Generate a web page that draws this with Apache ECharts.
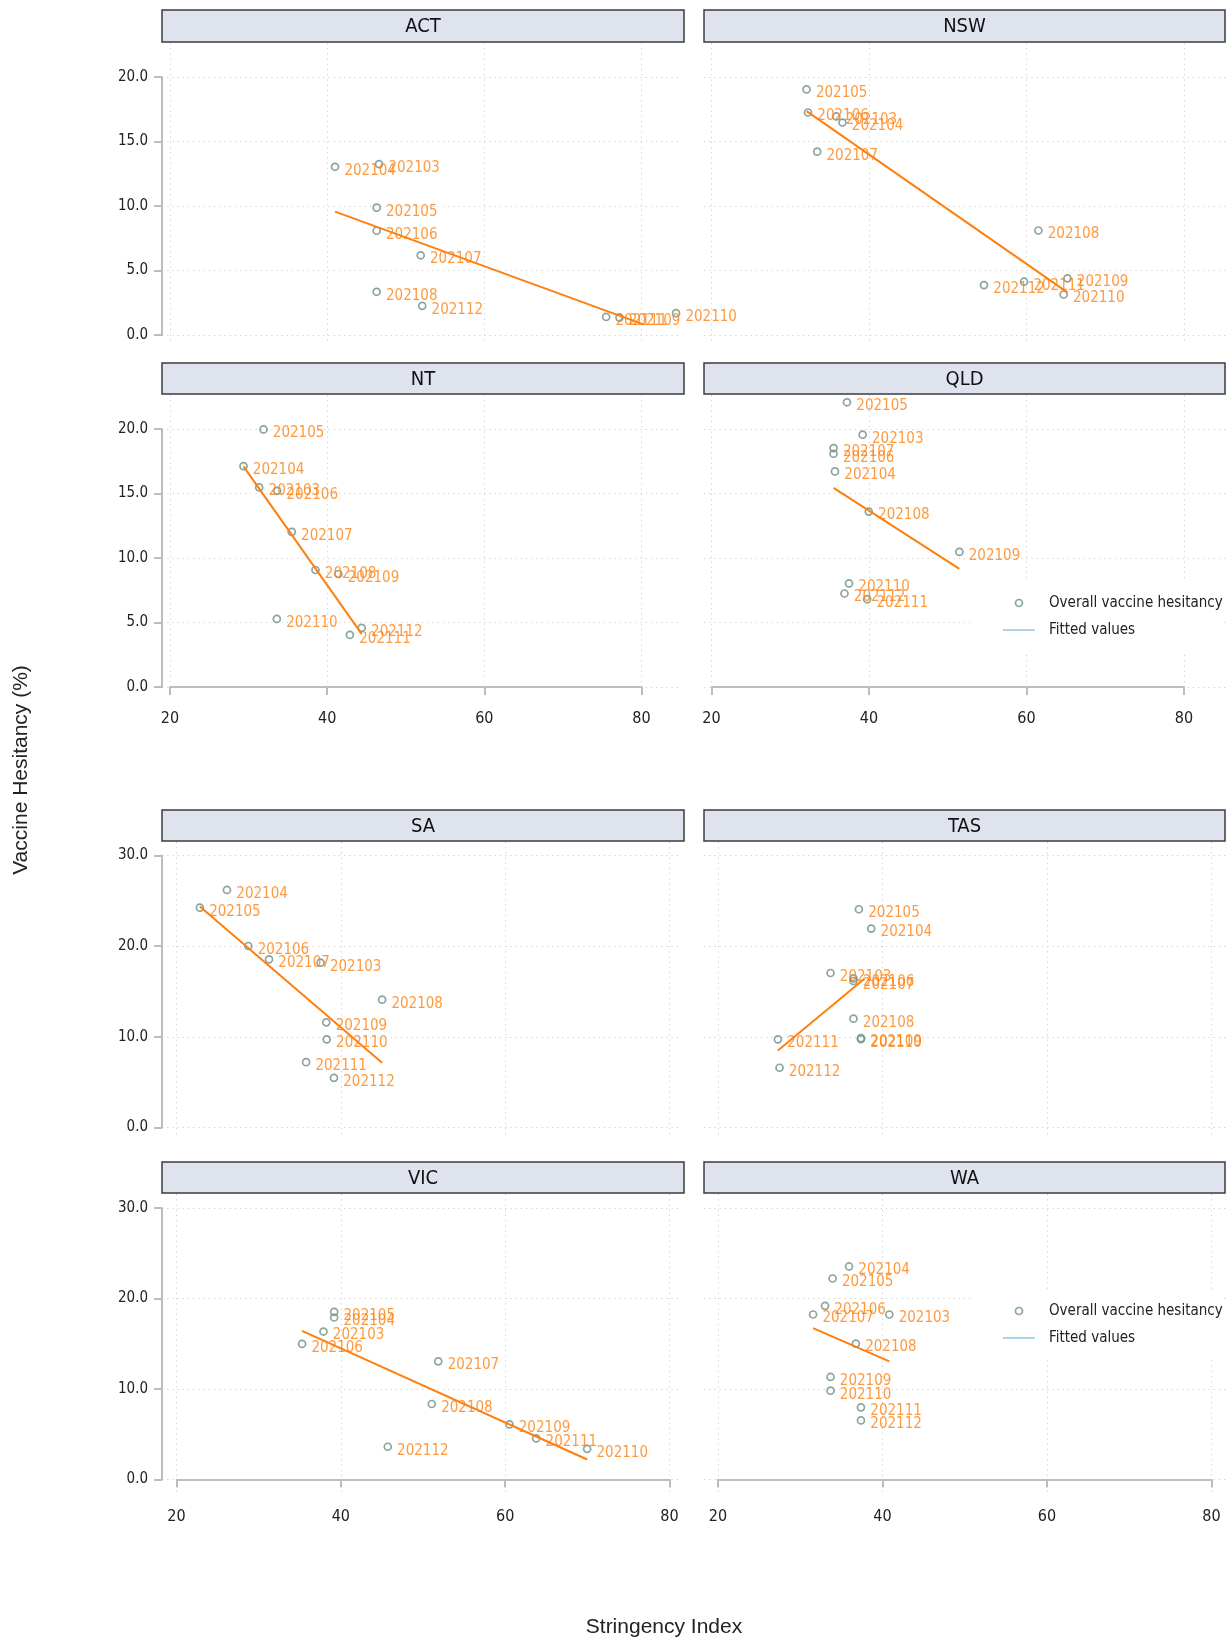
<!DOCTYPE html>
<html>
<head>
<meta charset="utf-8">
<title>Vaccine hesitancy vs stringency index by state</title>
<script src="https://cdn.jsdelivr.net/npm/echarts@6/dist/echarts.min.js"></script>
<style>
  html, body { margin: 0; padding: 0; background: #ffffff; }
  #chart { width: 1226px; height: 1641px; }
</style>
</head>
<body>
<div id="chart"></div>
<script>
// Survey months (labels next to each point)
const months = ['202103', '202104', '202105', '202106', '202107', '202108', '202109', '202110', '202111', '202112'];

// Stringency index (x) and overall vaccine hesitancy % (y), one value per month
const actStringency = [46.6, 41.0, 46.3, 46.3, 51.9, 46.3, 77.2, 84.4, 75.5, 52.1];
const actHesitancy  = [13.25, 13.04, 9.87, 8.08, 6.18, 3.35, 1.35, 1.69, 1.40, 2.26];
const nswStringency = [35.85, 36.63, 32.07, 32.25, 33.42, 61.51, 65.2, 64.72, 59.69, 54.6];
const nswHesitancy  = [16.94, 16.47, 19.04, 17.25, 14.21, 8.10, 4.39, 3.14, 4.13, 3.87];
const ntStringency  = [31.35, 29.35, 31.9, 33.64, 35.49, 38.51, 41.43, 33.59, 42.89, 44.40];
const ntHesitancy   = [15.47, 17.12, 19.97, 15.21, 12.02, 9.07, 8.76, 5.28, 4.04, 4.59];
const qldStringency = [39.19, 35.68, 37.2, 35.5, 35.5, 39.97, 51.48, 37.46, 39.76, 36.89];
const qldHesitancy  = [19.56, 16.71, 22.07, 18.08, 18.52, 13.60, 10.47, 8.03, 6.81, 7.25];
const saStringency  = [37.53, 26.14, 22.84, 28.74, 31.26, 45.02, 38.23, 38.28, 35.77, 39.16];
const saHesitancy   = [18.18, 26.2, 24.25, 20.02, 18.55, 14.1, 11.6, 9.72, 7.21, 5.48];
const tasStringency = [33.68, 38.63, 37.13, 36.47, 36.47, 36.47, 37.38, 37.38, 27.28, 27.48];
const tasHesitancy  = [17.04, 21.94, 24.07, 16.45, 16.16, 12.0, 9.85, 9.75, 9.72, 6.59];
const vicStringency = [37.89, 39.19, 39.19, 35.28, 51.86, 51.07, 60.52, 69.98, 63.78, 45.71];
const vicHesitancy  = [16.35, 17.9, 18.52, 14.98, 13.06, 8.34, 6.09, 3.39, 4.54, 3.62];
const waStringency  = [40.83, 35.93, 33.93, 33.01, 31.56, 36.76, 33.68, 33.68, 37.38, 37.38];
const waHesitancy   = [18.23, 23.54, 22.21, 19.19, 18.23, 15.02, 11.33, 9.82, 7.97, 6.53];

// Linear fit end points (stringency, fitted hesitancy)
const actFitX = [41.0, 84.4];   const actFitY = [9.56, -0.1];
const nswFitX = [32.07, 65.2];  const nswFitY = [17.36, 3.3];
const ntFitX  = [29.35, 44.4];  const ntFitY  = [17.1, 4.1];
const qldFitX = [35.5, 51.48];  const qldFitY = [15.44, 9.15];
const saFitX  = [22.84, 45.02]; const saFitY  = [24.37, 7.14];
const tasFitX = [27.28, 37.8];  const tasFitY = [8.5, 16.4];
const vicFitX = [35.28, 69.98]; const vicFitY = [16.42, 2.21];
const waFitX  = [31.56, 40.83]; const waFitY  = [16.72, 13.06];

// Axis tick values
const xTicks = [20, 40, 60, 80];
const yTopBlockMax = 20, yTopBlockStep = 5;
const yBottomBlockMax = 30, yBottomBlockStep = 10;

const SERIES_SCATTER = 'Overall vaccine hesitancy';
const SERIES_FIT = 'Fitted values';

// ---- styling ----
const FONT = '"DejaVu Sans Condensed", "Liberation Sans Narrow", "Liberation Sans", sans-serif';
const FONT_REG = '"Liberation Sans", Arial, sans-serif';
const FS = 15;
const ORANGE = '#ff7f0e';
const MARK = '#6f8f83';
const AXIS = '#bdbdbd';
const GRIDC = '#cfcfcf';
const STRIP = '#dfe3ee';
const TEXT = '#222222';

// ---- layout (pixels) ----
// columns of each block: y-axis line / plot left, plot right, x=20 and x=80 positions, strip extent
const COLS = [
  [ { axisX: 162, plotR: 680, x20: 170, x80: 641.5, stripL: 162, stripR: 684, yAxis: true },
    { axisX: 704, plotR: 1226, x20: 711.5, x80: 1184, stripL: 704, stripR: 1225, yAxis: false } ],
  [ { axisX: 162, plotR: 680, x20: 176.5, x80: 669.5, stripL: 162, stripR: 684, yAxis: true },
    { axisX: 704, plotR: 1226, x20: 718, x80: 1211.5, stripL: 704, stripR: 1225, yAxis: false } ]
];
// rows of each block: strip, y max / zero positions, bottom of plot area, whether an x axis is drawn
const ROWS = [
  [ { stripT: 10, stripB: 42, yTop: 77, y0: 335, plotB: 343, xAxis: false },
    { stripT: 363, stripB: 394, yTop: 429, y0: 687, plotB: 695, xAxis: true } ],
  [ { stripT: 810, stripB: 841, yTop: 855.5, y0: 1127.5, plotB: 1136, xAxis: false },
    { stripT: 1162, stripB: 1193, yTop: 1208, y0: 1479.5, plotB: 1493, xAxis: true } ]
];
const BLOCK_Y = [ { max: yTopBlockMax, step: yTopBlockStep }, { max: yBottomBlockMax, step: yBottomBlockStep } ];

const panels = [
  { name: 'ACT', blk: 0, row: 0, col: 0, xs: actStringency, ys: actHesitancy, fx: actFitX, fy: actFitY },
  { name: 'NSW', blk: 0, row: 0, col: 1, xs: nswStringency, ys: nswHesitancy, fx: nswFitX, fy: nswFitY },
  { name: 'NT',  blk: 0, row: 1, col: 0, xs: ntStringency,  ys: ntHesitancy,  fx: ntFitX,  fy: ntFitY },
  { name: 'QLD', blk: 0, row: 1, col: 1, xs: qldStringency, ys: qldHesitancy, fx: qldFitX, fy: qldFitY },
  { name: 'SA',  blk: 1, row: 0, col: 0, xs: saStringency,  ys: saHesitancy,  fx: saFitX,  fy: saFitY },
  { name: 'TAS', blk: 1, row: 0, col: 1, xs: tasStringency, ys: tasHesitancy, fx: tasFitX, fy: tasFitY },
  { name: 'VIC', blk: 1, row: 1, col: 0, xs: vicStringency, ys: vicHesitancy, fx: vicFitX, fy: vicFitY },
  { name: 'WA',  blk: 1, row: 1, col: 1, xs: waStringency,  ys: waHesitancy,  fx: waFitX,  fy: waFitY }
];

const grid = [], xAxis = [], yAxis = [], series = [], graphic = [];
const dotted = { color: GRIDC, width: 1, type: [1.2, 4] };

panels.forEach(function (p) {
  const c = COLS[p.blk][p.col];
  const r = ROWS[p.blk][p.row];
  const yb = BLOCK_Y[p.blk];
  const pxPerY = (r.y0 - r.yTop) / yb.max;
  const plotT = r.stripB + 1;

  // data grid: spans x 20..80 exactly, and the full plot height
  const gi = grid.length;
  grid.push({ left: c.x20, width: c.x80 - c.x20, top: plotT, height: r.plotB - plotT });
  xAxis.push({
    gridIndex: gi, type: 'value', min: xTicks[0], max: xTicks[xTicks.length - 1], interval: 20,
    axisLine: { show: r.xAxis, lineStyle: { color: AXIS, width: 2 } },
    axisTick: { show: r.xAxis, length: 8, lineStyle: { color: AXIS, width: 2 } },
    axisLabel: { show: r.xAxis, margin: 16, fontFamily: FONT, fontSize: FS + 1, color: TEXT },
    splitLine: { show: true, lineStyle: dotted }
  });
  yAxis.push({
    gridIndex: gi, type: 'value', show: false,
    min: -(r.plotB - r.y0) / pxPerY, max: (r.y0 - plotT) / pxPerY
  });

  // y grid: spans 0..max exactly, and the full plot width (horizontal grid lines + y axis)
  const hi = grid.length;
  grid.push({ left: c.axisX, width: c.plotR - c.axisX, top: r.yTop, height: r.y0 - r.yTop });
  xAxis.push({ gridIndex: hi, type: 'value', min: 0, max: 1, show: false });
  yAxis.push({
    gridIndex: hi, type: 'value', min: 0, max: yb.max, interval: yb.step,
    axisLine: { show: c.yAxis, lineStyle: { color: AXIS, width: 2 } },
    axisTick: { show: c.yAxis, length: 8, lineStyle: { color: AXIS, width: 2 } },
    axisLabel: { show: c.yAxis, margin: 14, fontFamily: FONT, fontSize: FS, color: TEXT,
                 formatter: function (v) { return v.toFixed(1); } },
    splitLine: { show: true, lineStyle: dotted }
  });

  series.push({
    type: 'scatter', name: SERIES_SCATTER, xAxisIndex: gi, yAxisIndex: gi, clip: false,
    symbol: 'circle', symbolSize: 7, silent: true, z: 2,
    itemStyle: { color: 'rgba(0,0,0,0)', borderColor: MARK, borderWidth: 1.7 },
    label: { show: true, position: 'right', distance: 5, offset: [0, 4], formatter: '{b}',
             color: ORANGE, fontFamily: FONT, fontSize: FS },
    data: p.xs.map(function (x, i) { return { name: months[i], value: [x, p.ys[i]] }; })
  });
  series.push({
    type: 'line', name: SERIES_FIT, xAxisIndex: gi, yAxisIndex: gi, clip: false,
    symbol: 'none', showSymbol: false, silent: true, z: 3,
    itemStyle: { color: ORANGE },
    lineStyle: { color: ORANGE, width: 2 },
    data: p.fx.map(function (x, i) { return [x, p.fy[i]]; })
  });

  // facet strip
  graphic.push({
    type: 'rect', silent: true,
    shape: { x: c.stripL, y: r.stripT, width: c.stripR - c.stripL, height: r.stripB - r.stripT },
    style: { fill: STRIP, stroke: '#3c3c3c', lineWidth: 1.5 }
  });
  graphic.push({
    type: 'text', silent: true, x: (c.stripL + c.stripR) / 2, y: (r.stripT + r.stripB) / 2 + 1,
    style: { text: p.name, font: '20px ' + FONT, fill: '#111', align: 'center', verticalAlign: 'middle',
             textAlign: 'center', textVerticalAlign: 'middle' }
  });
});

// axis titles
graphic.push({
  type: 'text', silent: true, x: 21, y: 770, rotation: Math.PI / 2,
  style: { text: 'Vaccine Hesitancy (%)', font: '21px ' + FONT_REG, fill: TEXT,
           align: 'center', verticalAlign: 'middle', textAlign: 'center', textVerticalAlign: 'middle' }
});
graphic.push({
  type: 'text', silent: true, x: 664, y: 1627,
  style: { text: 'Stringency Index', font: '21px ' + FONT_REG, fill: TEXT,
           align: 'center', verticalAlign: 'middle', textAlign: 'center', textVerticalAlign: 'middle' }
});

function legendAt(top) {
  return {
    left: 974, top: top, orient: 'vertical', selectedMode: false,
    padding: [12, 0, 12, 28], backgroundColor: '#ffffff',
    itemWidth: 32, itemHeight: 7, itemGap: 7,
    textStyle: { fontFamily: FONT, fontSize: FS, color: TEXT, lineHeight: 20, padding: [0, 0, 0, 9] },
    data: [
      { name: SERIES_SCATTER, icon: 'circle',
        itemStyle: { color: 'rgba(0,0,0,0)', borderColor: MARK, borderWidth: 1.7 } },
      { name: SERIES_FIT, itemStyle: { opacity: 0, color: 'rgba(0,0,0,0)', borderWidth: 0 },
        lineStyle: { color: '#a9d7e8', width: 2, opacity: 1 } }
    ]
  };
}

const chart = echarts.init(document.getElementById('chart'), null, { renderer: 'canvas' });
chart.setOption({
  animation: false,
  backgroundColor: '#ffffff',
  grid: grid,
  xAxis: xAxis,
  yAxis: yAxis,
  series: series,
  legend: [legendAt(581), legendAt(1289)],
  graphic: graphic
});
</script>
</body>
</html>
